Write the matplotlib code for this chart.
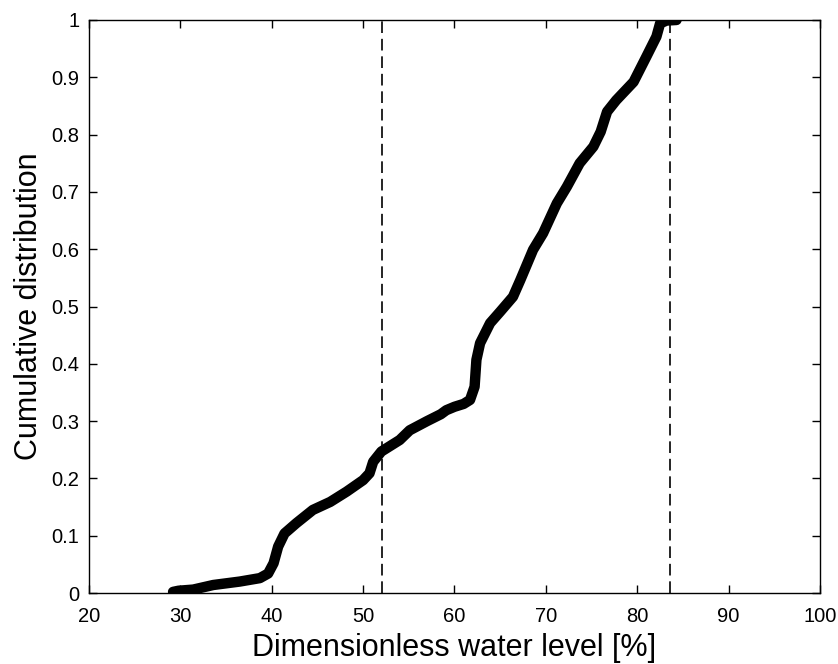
import matplotlib
matplotlib.use('Agg')
import matplotlib.pyplot as plt

# Cumulative distribution
water_level = [29.2, 29.8, 31.4, 33.6, 36.5, 38.7, 39.6, 40.2, 40.7, 41.4, 42.7,
               44.5, 46.4, 48.2, 50.0, 50.7, 51.1, 52.0, 54.0, 55.1, 57.0, 58.5,
               59.1, 60.0, 61.0, 61.7, 62.2, 62.4, 62.8, 63.9, 65.0, 66.4, 67.2,
               68.6, 69.7, 71.2, 72.3, 73.7, 75.2, 76.0, 76.7, 77.7, 79.6, 81.0,
               82.1, 82.5, 83.2, 84.3]
cumulative = [0.002, 0.004, 0.006, 0.014, 0.020, 0.026, 0.034, 0.052, 0.081, 0.104,
              0.122, 0.145, 0.159, 0.177, 0.197, 0.209, 0.229, 0.247, 0.267, 0.284,
              0.300, 0.312, 0.319, 0.325, 0.330, 0.337, 0.360, 0.407, 0.436, 0.471,
              0.491, 0.517, 0.546, 0.599, 0.628, 0.680, 0.709, 0.750, 0.779, 0.805,
              0.840, 0.860, 0.892, 0.936, 0.971, 0.994, 0.999, 1.0]

# vertical reference lines
ref_levels = [52.1, 83.6]

x_ticks = [20, 30, 40, 50, 60, 70, 80, 90, 100]
y_ticks = [0, 0.1, 0.2, 0.3, 0.4, 0.5, 0.6, 0.7, 0.8, 0.9, 1]
y_labels = ['0', '0.1', '0.2', '0.3', '0.4', '0.5', '0.6', '0.7', '0.8', '0.9', '1']

plt.rcParams['font.family'] = ['Liberation Sans', 'DejaVu Sans']

fig = plt.figure(figsize=(8.38, 6.64), dpi=100)
ax = fig.add_axes([0.1062, 0.1069, 0.8723, 0.863])

for lvl in ref_levels:
    ax.axvline(lvl, color='black', linestyle=(0, (7, 3.5)), linewidth=1.2)

ax.plot(water_level, cumulative, color='black', linewidth=7.5,
        solid_capstyle='round', solid_joinstyle='round')

ax.set_xlim(20, 100)
ax.set_ylim(0, 1)
ax.set_xticks(x_ticks)
ax.set_yticks(y_ticks)
ax.set_yticklabels(y_labels)
ax.tick_params(direction='in', length=6, width=1, top=True, right=True,
               labelsize=14.5)
ax.tick_params(axis='x', pad=10)
ax.tick_params(axis='y', pad=7)
for sp in ax.spines.values():
    sp.set_linewidth(1)

ax.set_xlabel('Dimensionless water level [%]', fontsize=22, labelpad=5)
ax.set_ylabel('Cumulative distribution', fontsize=22, labelpad=5)

fig.savefig('out.png', dpi=100)
